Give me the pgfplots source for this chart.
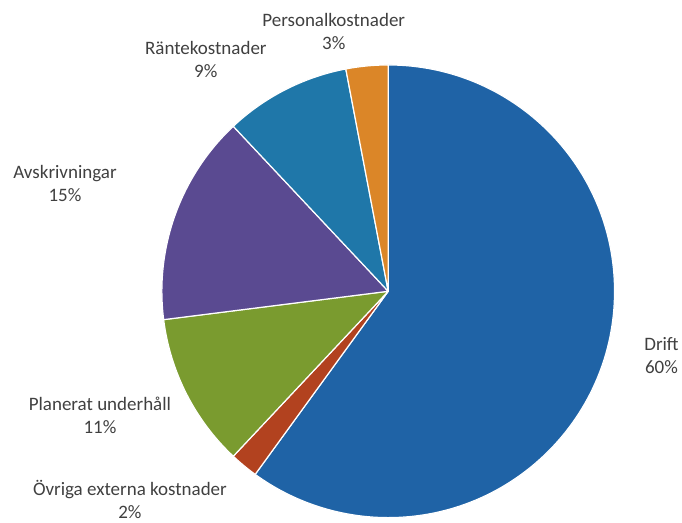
\documentclass[border=0pt]{standalone}
\usepackage{pgfplots}
\usepackage{pgfplotstable}
\pgfplotsset{compat=1.18}
\usepackage{fontspec}
\setmainfont{Carlito}
\definecolor{cDrift}{HTML}{1F63A6}
\definecolor{cOvr}{HTML}{B2421F}
\definecolor{cPlan}{HTML}{7A9B2F}
\definecolor{cAvs}{HTML}{5A4A91}
\definecolor{cRan}{HTML}{1F77A9}
\definecolor{cPers}{HTML}{DB8628}
\definecolor{ctext}{HTML}{404040}

\pgfplotstableread[col sep=comma]{
key,value,color
Drift,60,cDrift
Ovriga,2,cOvr
Planerat,11,cPlan
Avskrivningar,15,cAvs
Rantekostnader,9,cRan
Personalkostnader,3,cPers
}\piedata

\begin{document}
\begin{tikzpicture}
\begin{axis}[x=1pt,y=1pt,xmin=0,xmax=682,ymin=0,ymax=522,
  axis line style={draw=none},ticks=none,clip=false,scale only axis]
\def\curangle{90}
\pgfplotsforeachungrouped \i in {0,...,5}{%
  \pgfplotstablegetelem{\i}{value}\of\piedata \let\val\pgfplotsretval
  \pgfplotstablegetelem{\i}{color}\of\piedata \let\col\pgfplotsretval
  \pgfmathsetmacro\endangle{\curangle-3.6*\val}%
  \edef\temp{\noexpand\fill[\col, draw=white, line width=1.2pt, line join=round] (axis cs:388.5,230.5) -- ++(\curangle:226.5pt) arc[start angle=\curangle, end angle=\endangle, radius=226.5pt] -- cycle;}%
  \temp
  \global\let\curangle\endangle
}
\begin{scope}[every node/.style={align=center,text=ctext,font=\fontsize{19}{23}\selectfont}]
\node at (axis cs:334,490.5) {Personalkostnader\\3\%};
\node at (axis cs:206,462.5) {Räntekostnader\\9\%};
\node at (axis cs:65,338) {Avskrivningar\\15\%};
\node at (axis cs:662,166.5) {Drift\\60\%};
\node at (axis cs:100,106) {Planerat underhåll\\11\%};
\node at (axis cs:130,22) {Övriga externa kostnader\\2\%};
\end{scope}
\end{axis}
\end{tikzpicture}
\end{document}
